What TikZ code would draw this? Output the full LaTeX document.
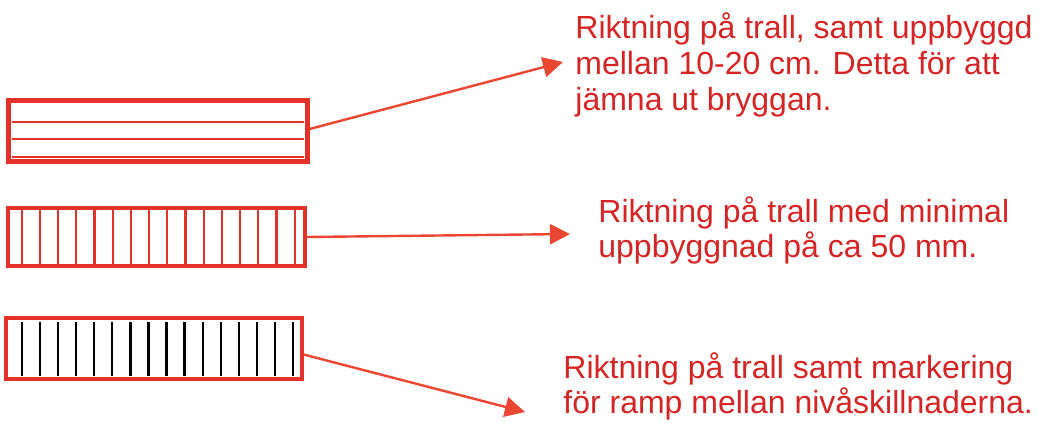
\documentclass[tikz,border=0pt]{standalone}
\usepackage{fontspec}
\setmainfont{Liberation Sans}
\usetikzlibrary{arrows.meta}
\definecolor{trallred}{RGB}{228,50,40}
\definecolor{arrowred}{RGB}{234,70,50}
\definecolor{textred}{RGB}{214,36,36}

\begin{document}
\begin{tikzpicture}[x=0.5pt,y=-0.5pt,>={Triangle[length=10pt,width=10pt]},
        deck/.style={draw=trallred,line width=1.6pt,inner sep=0pt},
        note/.style={text=textred,align=left,inner sep=0pt,anchor=base west,
            font=\fontsize{16pt}{17.5pt}\selectfont},
        pointer/.style={->,draw=arrowred,line width=1.2pt}]
    \useasboundingbox (0,0) rectangle (1047,428);
    % trall laid lengthwise
    \node[deck,minimum width=150pt,minimum height=31pt] (deck1) at (158,131) {};
    \draw[trallred,line width=0.9pt] ([shift={(4,4)}]deck1.north west)
        rectangle ([shift={(-4,-4)}]deck1.south east);
    \foreach \y in {122,139,157}
        \draw[trallred,line width=1.2pt] (12,\y) -- (304,\y);
    % trall laid crosswise
    \node[deck,minimum width=148.5pt,minimum height=29pt] (deck2) at (156.5,237) {};
    \foreach \i in {0,...,15}
        \draw[trallred,line width=1.1pt] (21.7+18.2*\i,208) -- (21.7+18.2*\i,266);
    % trall with ramp marking
    \node[deck,minimum width=148pt,minimum height=30.5pt] (deck3) at (154,348.5) {};
    \foreach \i in {0,...,15}
        \draw[black,line width=1.2pt] (21.7+18.1*\i,322) -- (21.7+18.1*\i,376);
    % texts (anchored at the baseline of the last line)
    \node[note,font=\fontsize{16pt}{18pt}\selectfont] (note1) at (575,110)
        {Riktning på trall, samt uppbyggd\\mellan 10-20 cm. Detta för att\\jämna ut bryggan.};
    \node[note,font=\fontsize{16pt}{16pt}\selectfont] (note2) at (598,257)
        {Riktning på trall med minimal\\uppbyggnad på ca 50 mm.};
    \node[note] (note3) at (563,413)
        {Riktning på trall samt markering\\för ramp mellan nivåskillnaderna.};
    % arrows
    \coordinate (tip1) at (563,62);
    \coordinate (tip2) at (570,234);
    \coordinate (tip3) at (525,412);
    \draw[pointer] ([yshift=1pt]deck1.east) -- (tip1);
    \draw[pointer] (deck2.east) -- (tip2);
    \draw[pointer] ([yshift=-3pt]deck3.east) -- (tip3);
\end{tikzpicture}
\end{document}
